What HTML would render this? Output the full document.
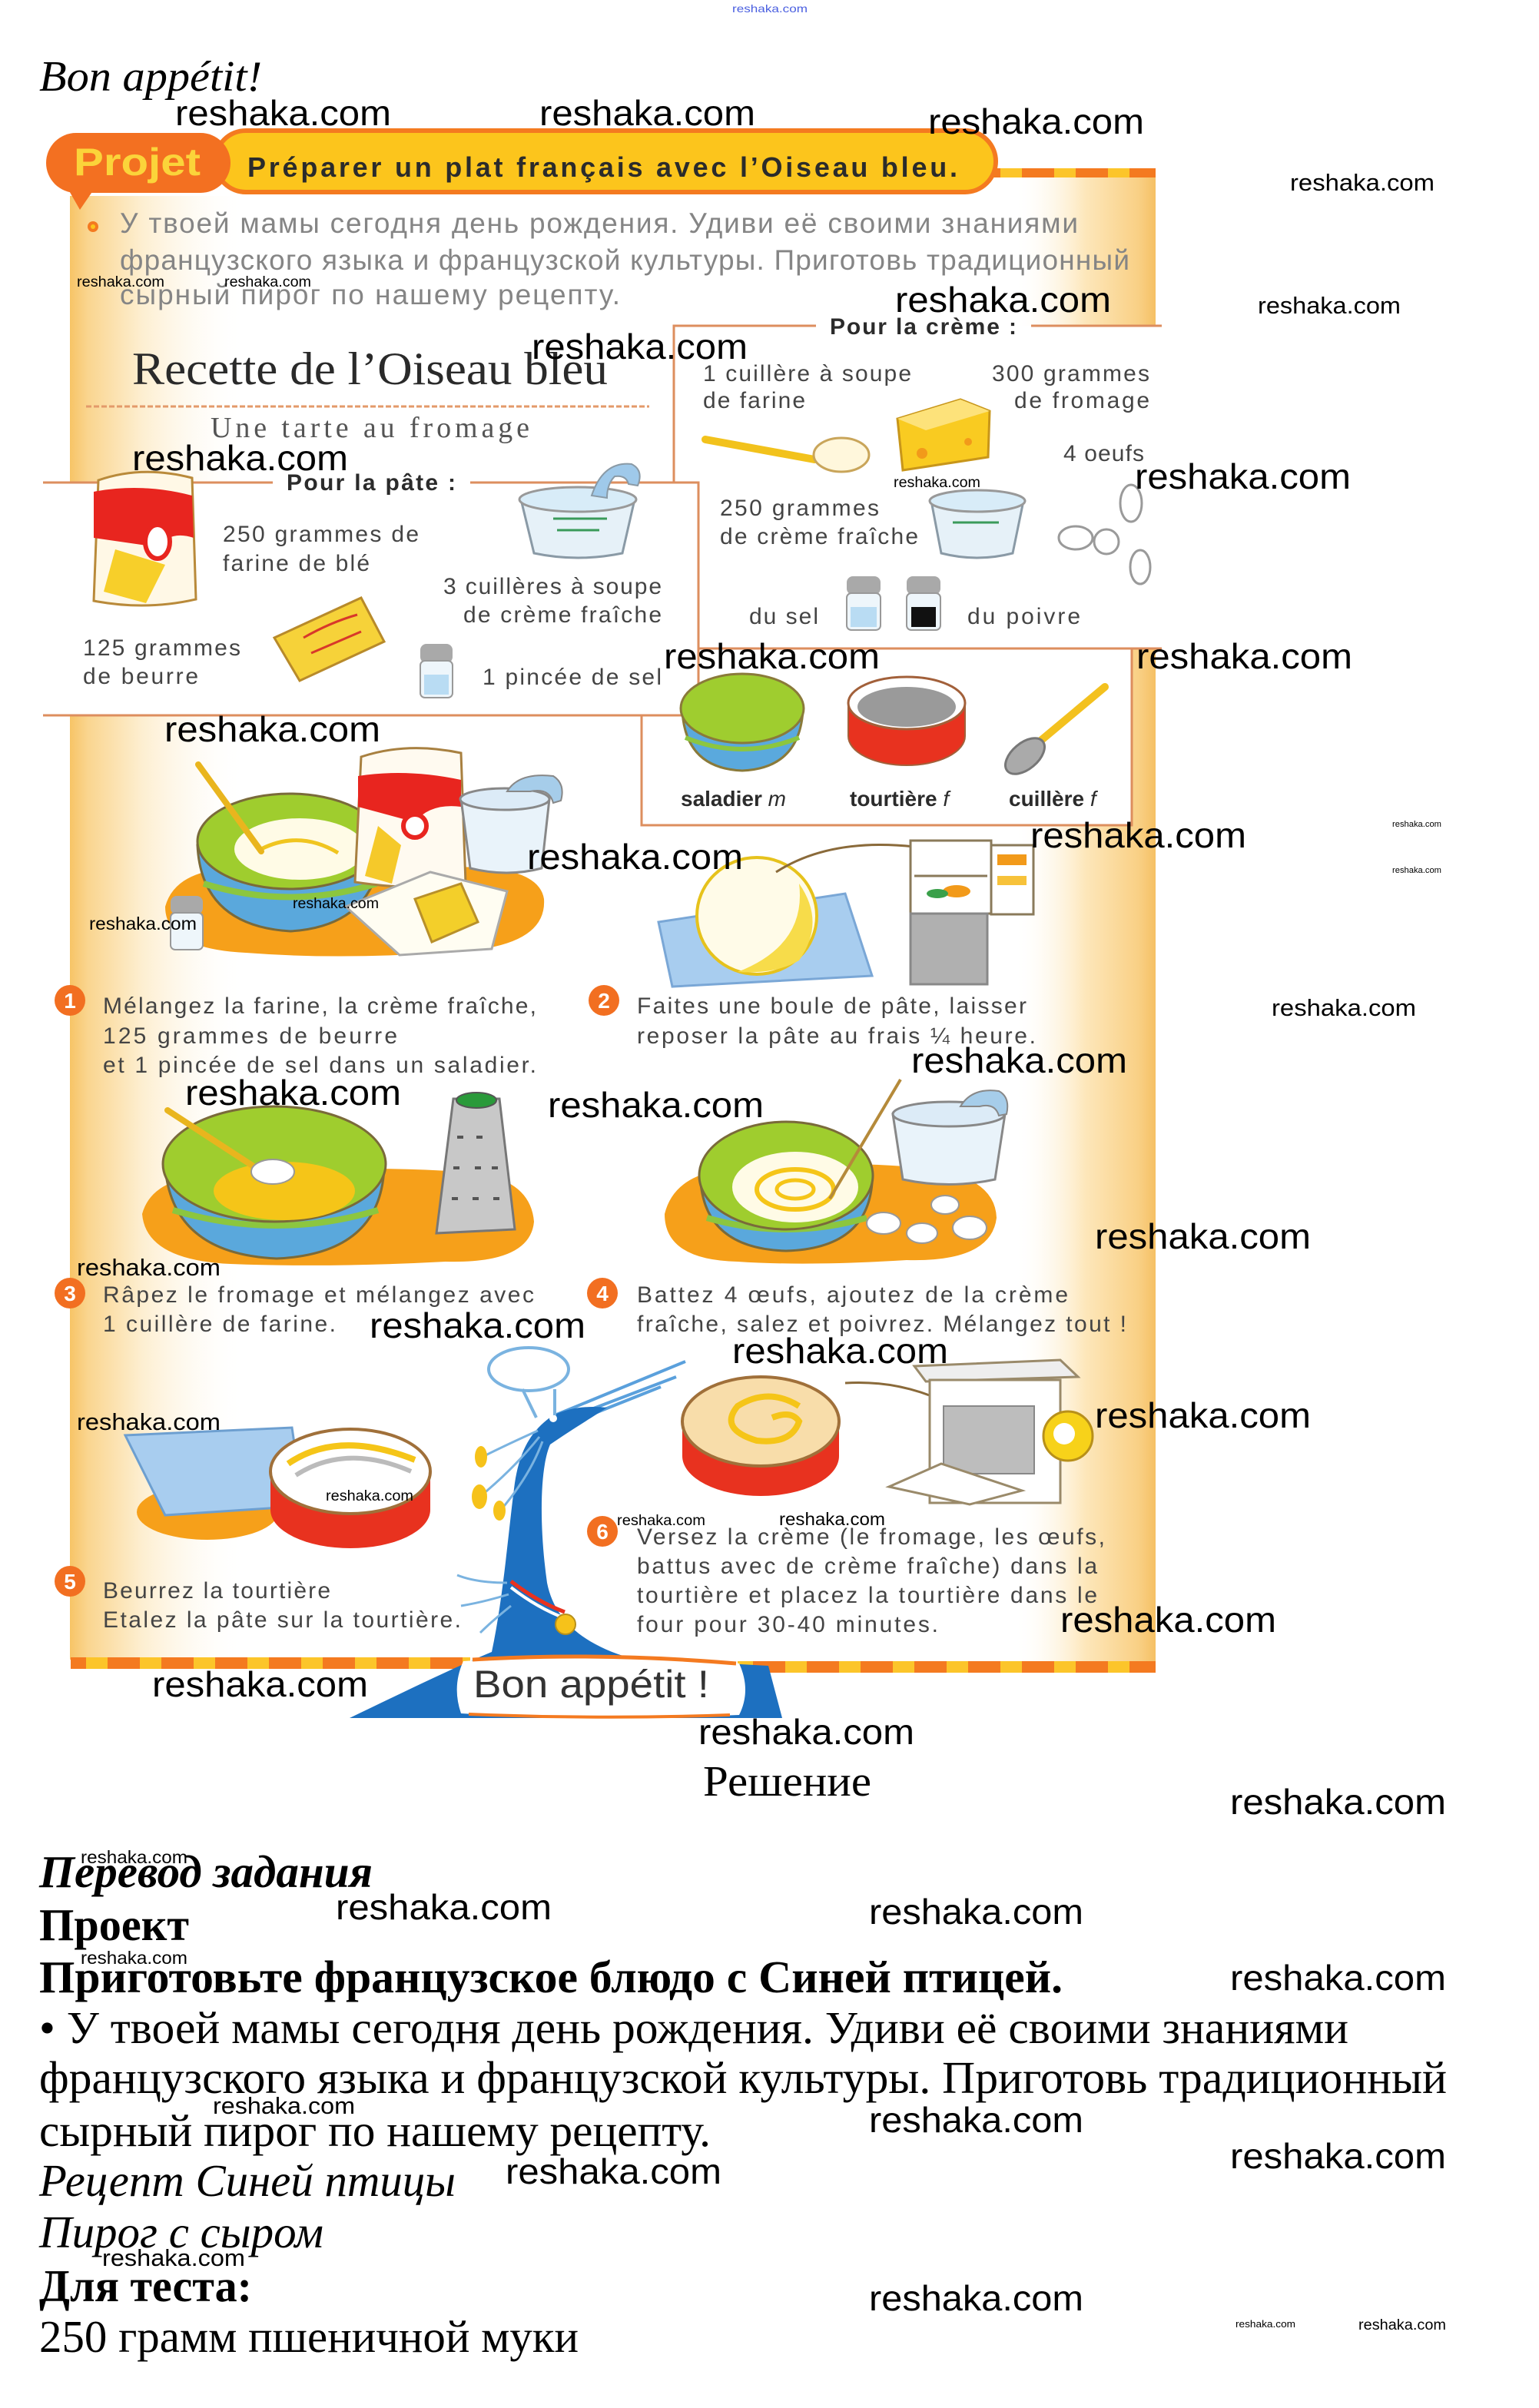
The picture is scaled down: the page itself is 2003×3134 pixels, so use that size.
<!DOCTYPE html>
<html><head><meta charset="utf-8">
<style>
html,body{margin:0;padding:0;background:#fff;}
svg{display:block;}
.wm{font-family:"Liberation Sans",sans-serif;fill:#000;}
.sc{font-family:"Liberation Sans",sans-serif;fill:#444;}
.scb{font-family:"Liberation Sans",sans-serif;fill:#2b2b2b;font-weight:bold;}
.ru{font-family:"Liberation Serif",serif;fill:#000;}
</style></head><body>
<svg width="2003" height="3134" viewBox="0 0 2003 3134" xmlns="http://www.w3.org/2000/svg">
<defs>
<linearGradient id="lb" x1="0" x2="1" y1="0" y2="0">
<stop offset="0" stop-color="#f7c466"/><stop offset="0.1" stop-color="#fad58f"/><stop offset="0.4" stop-color="#fdeecf"/><stop offset="1" stop-color="#ffffff" stop-opacity="0"/>
</linearGradient>
<linearGradient id="rb" x1="0" x2="1" y1="0" y2="0">
<stop offset="0" stop-color="#ffffff" stop-opacity="0"/><stop offset="0.5" stop-color="#fde7bb"/><stop offset="0.88" stop-color="#f9d085"/><stop offset="1" stop-color="#f5c064"/>
</linearGradient>
<pattern id="dash" x="0" y="0" width="70" height="24" patternUnits="userSpaceOnUse">
<rect width="70" height="24" fill="#fcc52a"/><rect width="42" height="24" fill="#f47a20"/>
</pattern>
</defs>
<rect width="2003" height="3134" fill="#fff"/>

<!-- side bands -->
<rect x="91" y="255" width="230" height="1905" fill="url(#lb)"/>
<rect x="1320" y="228" width="184" height="1945" fill="url(#rb)"/>

<!-- header -->
<rect x="1290" y="219" width="214" height="12" fill="url(#dash)"/>
<rect x="280" y="170" width="1016" height="80" rx="40" fill="#fcc51c" stroke="#f47a20" stroke-width="6"/>
<rect x="60" y="173" width="240" height="78" rx="39" fill="#f37021"/>
<polygon points="84,238 128,238 104,273" fill="#f37021"/>
<text x="96" y="228" class="scb" style="fill:#fbd43a" font-size="50" textLength="165" lengthAdjust="spacingAndGlyphs">Projet</text>
<text x="322" y="230" class="scb" font-size="36" textLength="924" lengthAdjust="spacing">Préparer un plat français avec l’Oiseau bleu.</text>

<!-- intro russian -->
<circle cx="121" cy="295" r="7" fill="#f47a20"/><circle cx="121" cy="295" r="3" fill="#fcc51c"/>
<g class="sc" style="fill:#858585" font-size="37">
<text x="156" y="303" textLength="1247" lengthAdjust="spacing">У твоей мамы сегодня день рождения. Удиви её своими знаниями</text>
<text x="156" y="351" textLength="1314" lengthAdjust="spacing">французского языка и французской культуры. Приготовь традиционный</text>
<text x="156" y="396" textLength="651" lengthAdjust="spacing">сырный пирог по нашему рецепту.</text>
</g>

<!-- title -->
<text x="172" y="500" font-family="Liberation Serif, serif" fill="#2a2a2a" font-size="60" textLength="619" lengthAdjust="spacingAndGlyphs">Recette de l’Oiseau bleu</text>
<line x1="112" y1="529" x2="845" y2="529" stroke="#e39a6a" stroke-width="3" stroke-dasharray="7 3"/>
<text x="274" y="569" font-family="Liberation Serif, serif" fill="#555" font-size="38" textLength="415" lengthAdjust="spacing">Une tarte au fromage</text>

<!-- boxes -->
<rect x="877" y="424" width="635" height="420" fill="#fff"/>
<rect x="835" y="844" width="638" height="230" fill="#fff"/>
<rect x="56" y="628" width="853" height="303" fill="#fff"/>
<g stroke="#dd8e5e" stroke-width="3" fill="none">
<path d="M877 628 L877 424 L1062 424 M1342 424 L1512 424"/>
<path d="M909 844 L1512 844"/>
<path d="M835 931 L835 1074 L1473 1074 L1473 844"/>
<path d="M56 628 L355 628 M612 628 L909 628 L909 931 L56 931"/>
</g>
<text x="373" y="638" class="scb" font-size="30" textLength="220" lengthAdjust="spacing">Pour la pâte :</text>
<text x="1080" y="435" class="scb" font-size="30" textLength="243" lengthAdjust="spacing">Pour la crème :</text>

<!-- pate contents -->
<g class="sc" font-size="30">
<text x="290" y="705" textLength="255" lengthAdjust="spacing">250 grammes de</text>
<text x="290" y="743" textLength="191" lengthAdjust="spacing">farine de blé</text>
<text x="577" y="773" textLength="284" lengthAdjust="spacing">3 cuillères à soupe</text>
<text x="603" y="810" textLength="258" lengthAdjust="spacing">de crème fraîche</text>
<text x="108" y="853" textLength="205" lengthAdjust="spacing">125 grammes</text>
<text x="108" y="890" textLength="150" lengthAdjust="spacing">de beurre</text>
<text x="628" y="891" textLength="233" lengthAdjust="spacing">1 pincée de sel</text>
<text x="915" y="496" textLength="271" lengthAdjust="spacing">1 cuillère à soupe</text>
<text x="915" y="531" textLength="133" lengthAdjust="spacing">de farine</text>
<text x="1291" y="496" textLength="205" lengthAdjust="spacing">300 grammes</text>
<text x="1320" y="531" textLength="176" lengthAdjust="spacing">de fromage</text>
<text x="1384" y="600" textLength="105" lengthAdjust="spacing">4 oeufs</text>
<text x="937" y="671" textLength="207" lengthAdjust="spacing">250 grammes</text>
<text x="937" y="708" textLength="258" lengthAdjust="spacing">de crème fraîche</text>
<text x="975" y="812" textLength="90" lengthAdjust="spacing">du sel</text>
<text x="1259" y="812" textLength="147" lengthAdjust="spacing">du poivre</text>
</g>
<g class="scb" font-size="28">
<text x="886" y="1049">saladier <tspan font-weight="normal" font-style="italic">m</tspan></text>
<text x="1106" y="1049">tourtière <tspan font-weight="normal" font-style="italic">f</tspan></text>
<text x="1313" y="1049">cuillère <tspan font-weight="normal" font-style="italic">f</tspan></text>
</g>

<!-- flour bag -->
<path d="M128 625 Q185 605 250 622 L255 780 Q190 795 122 782 Z" fill="#fff8e6" stroke="#b98a3a" stroke-width="3"/>
<path d="M122 640 Q185 628 250 645 L252 700 Q222 690 205 712 L122 700 Z" fill="#e8251f"/>
<ellipse cx="205" cy="705" rx="16" ry="22" fill="#fff" stroke="#e8251f" stroke-width="6"/>
<polygon points="135,770 150,715 215,735 190,785" fill="#f7cf2a"/>
<!-- creme pot -->
<path d="M678 650 L695 720 Q752 732 810 720 L826 650 Z" fill="#e6f1f8" stroke="#8a9aa6" stroke-width="3"/>
<ellipse cx="752" cy="650" rx="76" ry="16" fill="#d8ecf8" stroke="#999" stroke-width="3"/>
<path d="M770 645 Q785 600 822 604 Q838 612 830 632 L818 630 Q815 618 800 620 Q790 630 790 648 Z" fill="#9fc9ea" stroke="#8a9aa6" stroke-width="2"/>
<path d="M720 675 L790 675 M725 690 L780 690" stroke="#3a9a5a" stroke-width="3"/>
<!-- butter -->
<polygon points="357,830 470,778 500,835 390,886" fill="#f6d239" stroke="#b88a2a" stroke-width="3"/>
<path d="M395 830 Q430 810 465 800 M405 850 Q440 835 470 822" stroke="#d8382a" stroke-width="3" fill="none"/>
<!-- salt -->
<rect x="547" y="838" width="42" height="25" rx="8" fill="#a9a9a9"/>
<rect x="547" y="860" width="42" height="48" rx="6" fill="#eef6fb" stroke="#999" stroke-width="2"/>
<rect x="552" y="878" width="32" height="26" fill="#b9dcf3"/>

<!-- cheese -->
<polygon points="1168,545 1250,520 1288,535 1286,595 1175,612" fill="#f9cb21" stroke="#c8961a" stroke-width="3"/>
<polygon points="1168,545 1250,520 1288,535 1205,560" fill="#fde27a"/>
<circle cx="1200" cy="590" r="7" fill="#f29a1a"/><circle cx="1260" cy="575" r="5" fill="#f29a1a"/>
<!-- spoon flour -->
<line x1="918" y1="572" x2="1060" y2="598" stroke="#f2c21c" stroke-width="10" stroke-linecap="round"/>
<ellipse cx="1095" cy="592" rx="36" ry="22" fill="#fff7dc" stroke="#c9a55a" stroke-width="3"/>
<!-- eggs -->
<g fill="#fff" stroke="#9a9a9a" stroke-width="3">
<ellipse cx="1472" cy="655" rx="14" ry="24"/>
<ellipse cx="1400" cy="700" rx="22" ry="15"/>
<ellipse cx="1440" cy="705" rx="16" ry="16"/>
<ellipse cx="1484" cy="738" rx="13" ry="22"/>
</g>
<!-- pot 2 -->
<path d="M1212 652 L1225 720 Q1272 732 1318 720 L1332 652 Z" fill="#e6f1f8" stroke="#8a9aa6" stroke-width="3"/>
<ellipse cx="1272" cy="652" rx="62" ry="14" fill="#d8ecf8" stroke="#999" stroke-width="3"/>
<path d="M1240 680 L1300 680" stroke="#3a9a5a" stroke-width="3"/>
<!-- salt & pepper -->
<rect x="1102" y="750" width="44" height="24" rx="8" fill="#a9a9a9"/>
<rect x="1102" y="772" width="44" height="48" rx="6" fill="#eef6fb" stroke="#999" stroke-width="2"/>
<rect x="1107" y="790" width="34" height="26" fill="#b9dcf3"/>
<rect x="1180" y="750" width="44" height="24" rx="8" fill="#a9a9a9"/>
<rect x="1180" y="772" width="44" height="48" rx="6" fill="#eef6fb" stroke="#999" stroke-width="2"/>
<rect x="1186" y="790" width="32" height="26" fill="#111"/>

<!-- utensils -->
<path d="M888 925 Q892 1000 966 1003 Q1040 1000 1045 925 Z" fill="#5aa9dd" stroke="#8a7a3a" stroke-width="3"/>
<path d="M892 960 Q966 990 1040 960" stroke="#8cc63f" stroke-width="6" fill="none"/>
<ellipse cx="966" cy="922" rx="80" ry="45" fill="#9fcd2f" stroke="#8a7a3a" stroke-width="3"/>
<path d="M1104 915 A76 34 0 0 0 1256 915 L1256 958 A76 38 0 0 1 1104 958 Z" fill="#e8321f" stroke="#a2603a" stroke-width="2"/>
<ellipse cx="1180" cy="915" rx="76" ry="34" fill="#fff" stroke="#a2603a" stroke-width="3"/>
<ellipse cx="1180" cy="920" rx="64" ry="26" fill="#9a9a9a"/>
<line x1="1438" y1="894" x2="1352" y2="966" stroke="#f3c11f" stroke-width="10" stroke-linecap="round"/>
<ellipse cx="1334" cy="984" rx="30" ry="17" fill="#aaa" stroke="#777" stroke-width="3" transform="rotate(-40 1334 984)"/>

<!-- step 1 image -->
<path d="M215 1180 Q230 1125 330 1130 Q450 1118 560 1130 Q700 1120 708 1170 Q712 1230 600 1238 Q450 1250 320 1240 Q215 1235 215 1180 Z" fill="#f6a01a"/>
<path d="M257 1100 Q262 1205 378 1212 Q490 1205 497 1100 Z" fill="#5aa8dc" stroke="#7a6a3a" stroke-width="3"/>
<path d="M265 1150 Q378 1185 490 1150" stroke="#8cc63f" stroke-width="8" fill="none"/>
<ellipse cx="377" cy="1095" rx="120" ry="62" fill="#9fcd2e" stroke="#7a6a3a" stroke-width="3"/>
<ellipse cx="390" cy="1105" rx="85" ry="40" fill="#fffbe6"/>
<path d="M340 1105 Q390 1080 440 1110" stroke="#f0c520" stroke-width="5" fill="none"/>
<line x1="258" y1="995" x2="340" y2="1108" stroke="#e9b51e" stroke-width="8" stroke-linecap="round"/>
<path d="M470 985 Q530 965 600 980 L606 1150 Q540 1160 462 1148 Z" fill="#fffaf0" stroke="#a88040" stroke-width="3"/>
<path d="M466 1010 Q530 1000 600 1015 L600 1050 Q560 1045 540 1070 L466 1050 Z" fill="#e8251f"/>
<circle cx="540" cy="1075" r="15" fill="#fff" stroke="#e8251f" stroke-width="6"/>
<polygon points="475,1140 492,1075 522,1100 510,1150" fill="#f5c92a"/>
<path d="M600 1040 L612 1130 Q660 1142 705 1130 L715 1040 Z" fill="#e9f3fa" stroke="#888" stroke-width="3"/>
<ellipse cx="657" cy="1040" rx="58" ry="14" fill="#dcebf7" stroke="#888" stroke-width="3"/>
<path d="M660 1030 Q675 1005 720 1010 Q736 1020 730 1042 L720 1045 Q715 1025 690 1030 Z" fill="#a6cdea" stroke="#888" stroke-width="2"/>
<polygon points="450,1180 560,1135 660,1160 640,1235 520,1243" fill="#fffdf2" stroke="#aaa" stroke-width="3"/>
<polygon points="540,1170 600,1150 622,1200 562,1226" fill="#f3cf2a" stroke="#b8902a" stroke-width="3"/>
<rect x="222" y="1166" width="42" height="24" rx="8" fill="#a9a9a9"/>
<rect x="222" y="1188" width="42" height="48" rx="6" fill="#eef6fb" stroke="#999" stroke-width="2"/>

<!-- step 2 image -->
<polygon points="857,1200 1100,1163 1135,1270 875,1284" fill="#a8cdef" stroke="#7aa7d6" stroke-width="3"/>
<ellipse cx="985" cy="1192" rx="78" ry="76" fill="#fffbe8" stroke="#e6c21c" stroke-width="4"/>
<path d="M1040 1150 Q1075 1200 1040 1250 Q1010 1268 960 1265 Q1050 1230 1040 1150 Z" fill="#f7dc4a"/>
<path d="M1010 1135 Q1080 1090 1190 1102" stroke="#8a6a3a" stroke-width="3" fill="none"/>
<rect x="1185" y="1094" width="105" height="95" fill="#fff" stroke="#8a7a5a" stroke-width="3"/>
<line x1="1190" y1="1140" x2="1285" y2="1140" stroke="#8a7a5a" stroke-width="3"/>
<ellipse cx="1245" cy="1160" rx="18" ry="8" fill="#f29a1a"/><ellipse cx="1220" cy="1163" rx="14" ry="6" fill="#3aa04a"/>
<rect x="1290" y="1100" width="55" height="90" fill="#fff" stroke="#8a7a5a" stroke-width="3"/>
<rect x="1298" y="1112" width="38" height="14" fill="#f29a1a"/><rect x="1298" y="1140" width="38" height="12" fill="#f7c23a"/>
<rect x="1185" y="1189" width="100" height="92" fill="#b0b0b0" stroke="#888" stroke-width="3"/>

<!-- step 3 image -->
<path d="M185 1580 Q200 1525 300 1530 Q450 1515 600 1525 Q690 1530 695 1590 Q690 1645 580 1642 Q430 1650 300 1645 Q190 1640 185 1580 Z" fill="#f6a01a"/>
<path d="M215 1520 Q225 1632 360 1638 Q495 1632 500 1520 Z" fill="#5aa8dc" stroke="#7a6a3a" stroke-width="3"/>
<path d="M225 1575 Q360 1615 492 1575" stroke="#8cc63f" stroke-width="8" fill="none"/>
<ellipse cx="357" cy="1515" rx="145" ry="75" fill="#9fcd2e" stroke="#7a6a3a" stroke-width="3"/>
<ellipse cx="370" cy="1550" rx="92" ry="38" fill="#f5c518"/>
<line x1="218" y1="1445" x2="330" y2="1518" stroke="#e9b51e" stroke-width="8" stroke-linecap="round"/>
<ellipse cx="355" cy="1525" rx="28" ry="16" fill="#fff" stroke="#999" stroke-width="2"/>
<polygon points="590,1430 650,1430 670,1600 568,1605" fill="#c8c8c8" stroke="#777" stroke-width="3"/>
<ellipse cx="620" cy="1432" rx="26" ry="10" fill="#2a9a3a" stroke="#555" stroke-width="2"/>
<g stroke="#555" stroke-width="4"><path d="M595 1480 L603 1480 M620 1480 L628 1480 M590 1520 L598 1520 M618 1520 L626 1520 M640 1520 L648 1520 M588 1560 L596 1560 M615 1560 L623 1560 M642 1560 L650 1560"/></g>

<!-- step 4 image -->
<path d="M865 1580 Q880 1518 980 1520 Q1100 1510 1200 1520 Q1295 1530 1297 1585 Q1290 1643 1180 1640 Q1050 1648 960 1642 Q865 1640 865 1580 Z" fill="#f6a01a"/>
<path d="M912 1540 Q920 1625 1023 1628 Q1128 1625 1135 1540 Z" fill="#5aa8dc" stroke="#7a6a3a" stroke-width="3"/>
<path d="M920 1585 Q1023 1615 1128 1585" stroke="#8cc63f" stroke-width="8" fill="none"/>
<ellipse cx="1023" cy="1530" rx="113" ry="70" fill="#9fcd2e" stroke="#7a6a3a" stroke-width="3"/>
<ellipse cx="1035" cy="1545" rx="82" ry="46" fill="#fffbe6"/>
<ellipse cx="1035" cy="1548" rx="50" ry="26" fill="none" stroke="#f5c518" stroke-width="6"/>
<ellipse cx="1035" cy="1548" rx="24" ry="12" fill="none" stroke="#f5c518" stroke-width="5"/>
<line x1="1172" y1="1405" x2="1080" y2="1560" stroke="#b58a3a" stroke-width="4"/>
<path d="M1162 1450 L1175 1535 Q1235 1548 1295 1535 L1308 1450 Z" fill="#e9f3fa" stroke="#888" stroke-width="3"/>
<ellipse cx="1235" cy="1450" rx="73" ry="16" fill="#dcebf7" stroke="#888" stroke-width="3"/>
<path d="M1250 1440 Q1265 1415 1300 1420 Q1315 1428 1310 1450 L1300 1452 Q1295 1435 1275 1440 Z" fill="#a6cdea" stroke="#888" stroke-width="2"/>
<g fill="#fff" stroke="#999" stroke-width="2">
<ellipse cx="1150" cy="1592" rx="22" ry="14"/><ellipse cx="1200" cy="1605" rx="20" ry="13"/><ellipse cx="1262" cy="1598" rx="22" ry="15"/><ellipse cx="1230" cy="1568" rx="18" ry="12"/>
</g>

<!-- step 5 image -->
<ellipse cx="270" cy="1968" rx="92" ry="36" fill="#f6a01a"/>
<polygon points="163,1868 380,1858 395,1960 215,1972" fill="#a8cdef" stroke="#6d9fd0" stroke-width="3"/>
<path d="M352 1920 L352 1965 A104 50 0 0 0 560 1965 L560 1920 Z" fill="#e8321f"/>
<ellipse cx="456" cy="1915" rx="104" ry="55" fill="#fff" stroke="#a0703a" stroke-width="4"/>
<path d="M375 1905 Q440 1860 540 1900" stroke="#f5c518" stroke-width="8" fill="none"/>
<path d="M385 1920 Q450 1878 535 1915" stroke="#bbb" stroke-width="6" fill="none"/>

<!-- step 6 image -->
<path d="M888 1850 L888 1895 A102 52 0 0 0 1092 1895 L1092 1850 Z" fill="#e8321f"/>
<ellipse cx="990" cy="1850" rx="102" ry="58" fill="#f8ddaa" stroke="#a0703a" stroke-width="4"/>
<path d="M1040 1830 Q1000 1805 960 1830 Q935 1860 985 1875 Q1030 1880 1040 1850 Q1030 1835 1005 1845" stroke="#f5c518" stroke-width="8" fill="none"/>
<path d="M1100 1800 Q1180 1795 1250 1835" stroke="#8a6a3a" stroke-width="3" fill="none"/>
<polygon points="1250,1835 1236,1820 1232,1836" fill="#8a6a3a"/>
<polygon points="1190,1778 1380,1770 1403,1792 1205,1798" fill="#eee" stroke="#9a8a6a" stroke-width="3"/>
<rect x="1210" y="1796" width="170" height="160" fill="#fff" stroke="#9a8a6a" stroke-width="3"/>
<rect x="1228" y="1830" width="118" height="88" fill="#bdbdbd" stroke="#888" stroke-width="2"/>
<polygon points="1157,1935 1225,1905 1330,1940 1262,1958" fill="#fff" stroke="#9a8a6a" stroke-width="3"/>
<circle cx="1390" cy="1869" r="32" fill="#f7d21a" stroke="#b8901a" stroke-width="3"/>
<circle cx="1385" cy="1866" r="14" fill="#fff"/>

<!-- step numbers & texts -->
<g fill="#f26f21">
<circle cx="91" cy="1302" r="20"/><circle cx="786" cy="1302" r="20"/>
<circle cx="91" cy="1683" r="20"/><circle cx="784" cy="1683" r="20"/>
<circle cx="91" cy="2058" r="20"/><circle cx="784" cy="1993" r="20"/>
</g>
<g class="scb" style="fill:#fff" font-size="28" text-anchor="middle">
<text x="91" y="1312">1</text><text x="786" y="1312">2</text>
<text x="91" y="1693">3</text><text x="784" y="1693">4</text>
<text x="91" y="2068">5</text><text x="784" y="2003">6</text>
</g>
<g class="sc" font-size="30">
<text x="134" y="1319" textLength="564" lengthAdjust="spacing">Mélangez la farine, la crème fraîche,</text>
<text x="134" y="1358" textLength="383" lengthAdjust="spacing">125 grammes de beurre</text>
<text x="134" y="1396" textLength="564" lengthAdjust="spacing">et 1 pincée de sel dans un saladier.</text>
<text x="829" y="1319" textLength="507" lengthAdjust="spacing">Faites une boule de pâte, laisser</text>
<text x="829" y="1358" textLength="519" lengthAdjust="spacing">reposer la pâte au frais ¼ heure.</text>
<text x="134" y="1695" textLength="561" lengthAdjust="spacing">Râpez le fromage et mélangez avec</text>
<text x="134" y="1733" textLength="303" lengthAdjust="spacing">1 cuillère de farine.</text>
<text x="829" y="1695" textLength="561" lengthAdjust="spacing">Battez 4 œufs, ajoutez de la crème</text>
<text x="829" y="1733" textLength="637" lengthAdjust="spacing">fraîche, salez et poivrez. Mélangez tout !</text>
<text x="134" y="2080" textLength="296" lengthAdjust="spacing">Beurrez la tourtière</text>
<text x="134" y="2118" textLength="466" lengthAdjust="spacing">Etalez la pâte sur la tourtière.</text>
<text x="829" y="2010" textLength="609" lengthAdjust="spacing">Versez la crème (le fromage, les œufs,</text>
<text x="829" y="2048" textLength="599" lengthAdjust="spacing">battus avec de crème fraîche) dans la</text>
<text x="829" y="2086" textLength="599" lengthAdjust="spacing">tourtière et placez la tourtière dans le</text>
<text x="829" y="2124" textLength="392" lengthAdjust="spacing">four pour 30-40 minutes.</text>
</g>

<!-- bottom strips -->
<rect x="92" y="2157" width="520" height="15" fill="url(#dash)"/>
<rect x="960" y="2162" width="544" height="15" fill="url(#dash)"/>

<!-- bird -->
<g stroke="#5aa0dc" stroke-width="4" fill="none">
<path d="M722 1842 L892 1772 M728 1850 L880 1792 M732 1856 L860 1805"/>
</g>
<path d="M455 2236 C520 2205 580 2175 640 2150 C655 2080 662 1990 670 1930 C676 1890 690 1862 720 1842 C745 1830 770 1830 790 1832 C770 1845 742 1862 716 1880 C702 1912 702 1990 712 2060 C722 2110 760 2140 820 2158 L1000 2168 L1018 2236 Z" fill="#1d70c0"/>
<circle cx="720" cy="1846" r="5" fill="#fff"/>
<ellipse cx="688" cy="1782" rx="52" ry="28" fill="none" stroke="#7ab3e0" stroke-width="4"/>
<path d="M680 1808 L698 1845 M722 1808 L722 1842" stroke="#7ab3e0" stroke-width="4"/>
<g stroke="#7ab3e0" stroke-width="3" fill="none">
<path d="M700 1862 Q660 1880 630 1895 M702 1870 Q670 1910 628 1945 M706 1876 Q690 1920 652 1965"/>
<path d="M660 2060 Q620 2060 595 2050 M662 2075 Q630 2085 600 2090 M665 2090 Q640 2110 625 2125"/>
</g>
<g fill="#f6c21a"><ellipse cx="626" cy="1896" rx="8" ry="14"/><ellipse cx="624" cy="1948" rx="10" ry="16"/><ellipse cx="650" cy="1966" rx="8" ry="13"/></g>
<path d="M665 2058 Q700 2085 735 2098" stroke="#e8321f" stroke-width="5" fill="none"/>
<path d="M665 2066 Q700 2093 735 2106" stroke="#fff" stroke-width="4" fill="none"/>
<circle cx="736" cy="2114" r="13" fill="#f6c21a" stroke="#b8901a" stroke-width="2"/>
<path d="M603 2162 Q780 2150 962 2165 Q978 2200 962 2232 Q780 2240 600 2230 Q588 2195 603 2162 Z" fill="#fff"/>
<path d="M615 2160 Q780 2150 958 2165" stroke="#f47a20" stroke-width="5" fill="none"/>
<path d="M610 2231 Q780 2238 950 2232" stroke="#f47a20" stroke-width="4" fill="none"/>
<text x="616" y="2209" font-family="Liberation Sans, sans-serif" fill="#333" font-size="50" textLength="307" lengthAdjust="spacingAndGlyphs">Bon appétit !</text>

<!-- top texts -->
<text x="953" y="16" class="wm" style="fill:#4a5fe0" font-size="14" textLength="98" lengthAdjust="spacingAndGlyphs">reshaka.com</text>
<text x="51" y="118" class="ru" font-style="italic" font-size="56" textLength="290" lengthAdjust="spacingAndGlyphs">Bon appétit!</text>

<!-- bottom russian text -->
<text x="915" y="2337" class="ru" font-size="56" textLength="219" lengthAdjust="spacingAndGlyphs">Решение</text>
<g class="ru" font-size="59">
<text x="51" y="2456" font-weight="bold" font-style="italic" textLength="434" lengthAdjust="spacingAndGlyphs">Перевод задания</text>
<text x="51" y="2525" font-weight="bold" textLength="195" lengthAdjust="spacingAndGlyphs">Проект</text>
<text x="51" y="2593" font-weight="bold" textLength="1332" lengthAdjust="spacingAndGlyphs">Приготовьте французское блюдо с Синей птицей.</text>
<text x="51" y="2659" textLength="1704" lengthAdjust="spacingAndGlyphs">• У твоей мамы сегодня день рождения. Удиви её своими знаниями</text>
<text x="51" y="2724" textLength="1832" lengthAdjust="spacingAndGlyphs">французского языка и французской культуры. Приготовь традиционный</text>
<text x="51" y="2793" textLength="874" lengthAdjust="spacingAndGlyphs">сырный пирог по нашему рецепту.</text>
<text x="51" y="2858" font-style="italic" textLength="542" lengthAdjust="spacingAndGlyphs">Рецепт Синей птицы</text>
<text x="51" y="2925" font-style="italic" textLength="370" lengthAdjust="spacingAndGlyphs">Пирог с сыром</text>
<text x="51" y="2995" font-weight="bold" textLength="277" lengthAdjust="spacingAndGlyphs">Для теста:</text>
<text x="51" y="3061" textLength="702" lengthAdjust="spacingAndGlyphs">250 грамм пшеничной муки</text>
</g>

<!-- watermarks big -->
<g class="wm" font-size="46">
<text x="228" y="163" textLength="281" lengthAdjust="spacingAndGlyphs">reshaka.com</text>
<text x="702" y="163" textLength="281" lengthAdjust="spacingAndGlyphs">reshaka.com</text>
<text x="1208" y="174" textLength="281" lengthAdjust="spacingAndGlyphs">reshaka.com</text>
<text x="1165" y="406" textLength="281" lengthAdjust="spacingAndGlyphs">reshaka.com</text>
<text x="692" y="467" textLength="281" lengthAdjust="spacingAndGlyphs">reshaka.com</text>
<text x="172" y="612" textLength="281" lengthAdjust="spacingAndGlyphs">reshaka.com</text>
<text x="1477" y="636" textLength="281" lengthAdjust="spacingAndGlyphs">reshaka.com</text>
<text x="864" y="870" textLength="281" lengthAdjust="spacingAndGlyphs">reshaka.com</text>
<text x="1479" y="870" textLength="281" lengthAdjust="spacingAndGlyphs">reshaka.com</text>
<text x="214" y="965" textLength="281" lengthAdjust="spacingAndGlyphs">reshaka.com</text>
<text x="1341" y="1103" textLength="281" lengthAdjust="spacingAndGlyphs">reshaka.com</text>
<text x="686" y="1131" textLength="281" lengthAdjust="spacingAndGlyphs">reshaka.com</text>
<text x="1186" y="1396" textLength="281" lengthAdjust="spacingAndGlyphs">reshaka.com</text>
<text x="241" y="1438" textLength="281" lengthAdjust="spacingAndGlyphs">reshaka.com</text>
<text x="713" y="1454" textLength="281" lengthAdjust="spacingAndGlyphs">reshaka.com</text>
<text x="1425" y="1625" textLength="281" lengthAdjust="spacingAndGlyphs">reshaka.com</text>
<text x="481" y="1741" textLength="281" lengthAdjust="spacingAndGlyphs">reshaka.com</text>
<text x="953" y="1774" textLength="281" lengthAdjust="spacingAndGlyphs">reshaka.com</text>
<text x="1425" y="1858" textLength="281" lengthAdjust="spacingAndGlyphs">reshaka.com</text>
<text x="1380" y="2124" textLength="281" lengthAdjust="spacingAndGlyphs">reshaka.com</text>
<text x="198" y="2208" textLength="281" lengthAdjust="spacingAndGlyphs">reshaka.com</text>
<text x="909" y="2270" textLength="281" lengthAdjust="spacingAndGlyphs">reshaka.com</text>
<text x="1601" y="2361" textLength="281" lengthAdjust="spacingAndGlyphs">reshaka.com</text>
<text x="437" y="2498" textLength="281" lengthAdjust="spacingAndGlyphs">reshaka.com</text>
<text x="1131" y="2504" textLength="279" lengthAdjust="spacingAndGlyphs">reshaka.com</text>
<text x="1601" y="2590" textLength="281" lengthAdjust="spacingAndGlyphs">reshaka.com</text>
<text x="1131" y="2775" textLength="279" lengthAdjust="spacingAndGlyphs">reshaka.com</text>
<text x="658" y="2842" textLength="281" lengthAdjust="spacingAndGlyphs">reshaka.com</text>
<text x="1601" y="2822" textLength="281" lengthAdjust="spacingAndGlyphs">reshaka.com</text>
<text x="1131" y="3007" textLength="279" lengthAdjust="spacingAndGlyphs">reshaka.com</text>
</g>
<!-- watermarks medium -->
<g class="wm" font-size="31">
<text x="1679" y="248" textLength="188" lengthAdjust="spacingAndGlyphs">reshaka.com</text>
<text x="1637" y="408" textLength="186" lengthAdjust="spacingAndGlyphs">reshaka.com</text>
<text x="1655" y="1322" textLength="188" lengthAdjust="spacingAndGlyphs">reshaka.com</text>
<text x="100" y="1660" textLength="187" lengthAdjust="spacingAndGlyphs">reshaka.com</text>
<text x="100" y="1861" textLength="187" lengthAdjust="spacingAndGlyphs">reshaka.com</text>
<text x="277" y="2751" textLength="185" lengthAdjust="spacingAndGlyphs">reshaka.com</text>
<text x="133" y="2949" textLength="186" lengthAdjust="spacingAndGlyphs">reshaka.com</text>
</g>
<!-- watermarks small -->
<g class="wm" font-size="23">
<text x="116" y="1210" textLength="140" lengthAdjust="spacingAndGlyphs">reshaka.com</text>
<text x="105" y="2425" textLength="139" lengthAdjust="spacingAndGlyphs">reshaka.com</text>
<text x="105" y="2556" textLength="139" lengthAdjust="spacingAndGlyphs">reshaka.com</text>
<text x="1014" y="1985" textLength="138" lengthAdjust="spacingAndGlyphs">reshaka.com</text>
</g>
<g class="wm" font-size="19">
<text x="100" y="373" textLength="114" lengthAdjust="spacingAndGlyphs">reshaka.com</text>
<text x="292" y="373" textLength="113" lengthAdjust="spacingAndGlyphs">reshaka.com</text>
<text x="1163" y="634" textLength="113" lengthAdjust="spacingAndGlyphs">reshaka.com</text>
<text x="381" y="1182" textLength="112" lengthAdjust="spacingAndGlyphs">reshaka.com</text>
<text x="424" y="1953" textLength="114" lengthAdjust="spacingAndGlyphs">reshaka.com</text>
<text x="803" y="1985" textLength="115" lengthAdjust="spacingAndGlyphs">reshaka.com</text>
<text x="1768" y="3032" textLength="114" lengthAdjust="spacingAndGlyphs">reshaka.com</text>
</g>
<g class="wm" font-size="13">
<text x="1608" y="3029" textLength="78" lengthAdjust="spacingAndGlyphs">reshaka.com</text>
</g>
<g class="wm" font-size="11">
<text x="1812" y="1076" textLength="64" lengthAdjust="spacingAndGlyphs">reshaka.com</text>
<text x="1812" y="1136" textLength="64" lengthAdjust="spacingAndGlyphs">reshaka.com</text>
</g>
</svg>
</body></html>
